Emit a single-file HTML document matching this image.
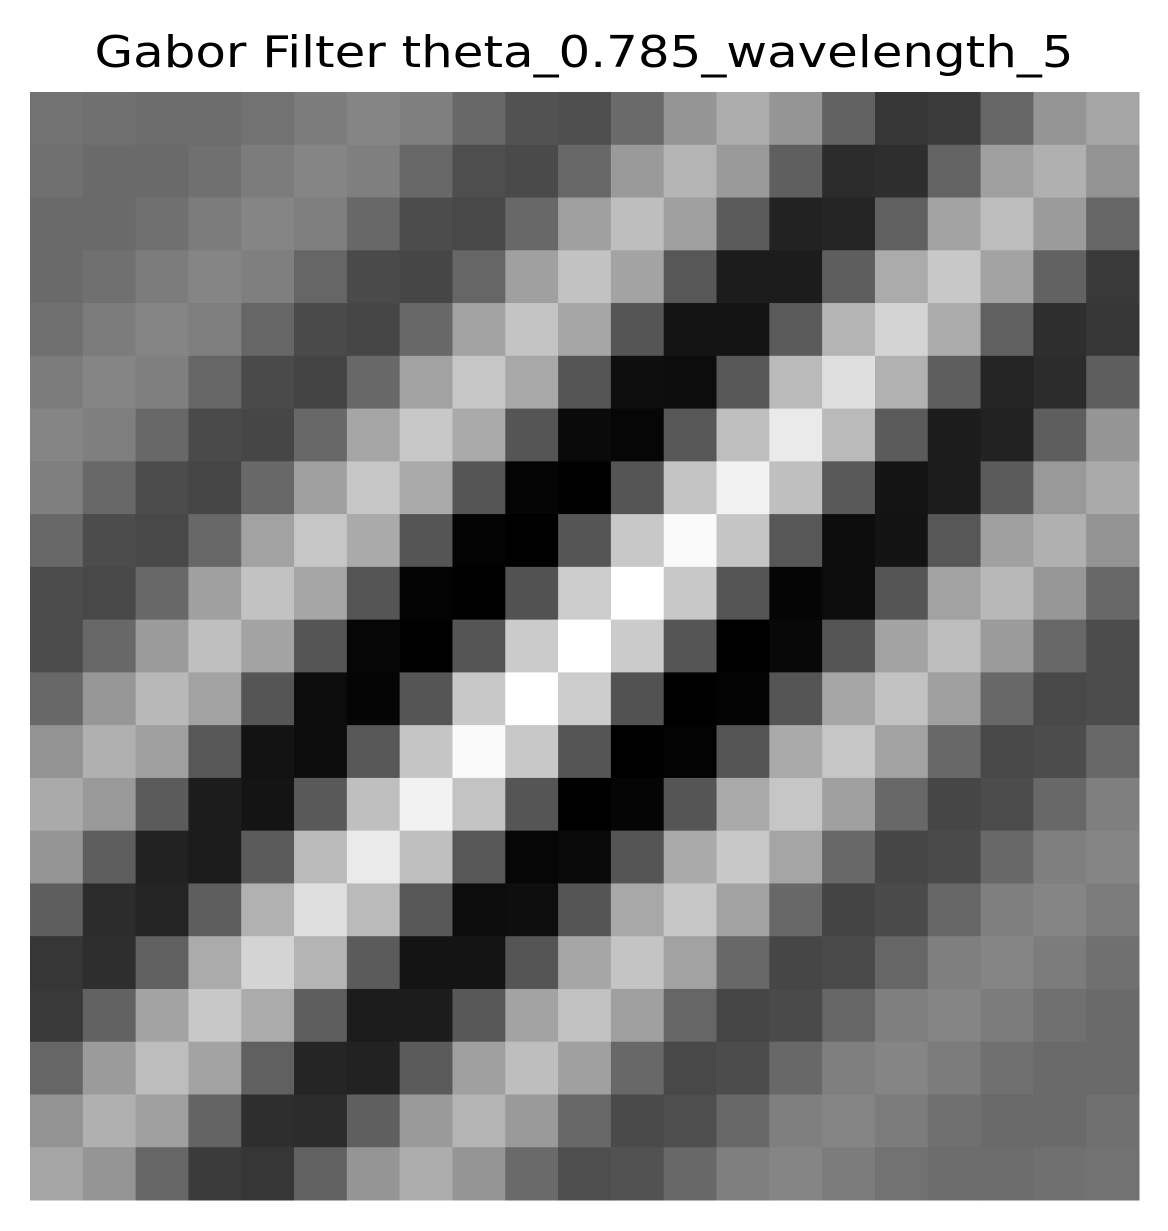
<!DOCTYPE html>
<html><head><meta charset="utf-8"><style>
html,body{margin:0;padding:0;background:#fff;}
svg{display:block;}
</style></head><body>
<svg id="chart" width="1168" height="1231" viewBox="0 0 1168 1231" xmlns="http://www.w3.org/2000/svg">
<rect width="1168" height="1231" fill="#fff"/>
<text x="584" y="67" text-anchor="middle" font-family="DejaVu Sans, Liberation Sans, sans-serif" font-size="44" textLength="979" lengthAdjust="spacingAndGlyphs" fill="#000">Gabor Filter theta_0.785_wavelength_5</text>
<g id="cells"></g>
</svg>
<script>
const rowIndex = [0,1,2,3,4,5,6,7,8,9,10,11,12,13,14,15,16,17,18,19,20];
const row0 = [114,112,108,108,114,124,133,127,104,82,78,106,149,173,149,98,54,59,102,149,165];
const row1 = [112,106,106,112,124,133,127,104,78,74,104,154,180,154,95,44,46,99,159,176,147];
const row2 = [106,106,112,124,133,127,104,76,72,104,160,190,160,91,34,37,96,163,189,155,102];
const row3 = [106,112,124,133,127,102,74,70,102,160,194,163,87,28,28,94,171,200,163,98,57];
const row4 = [112,124,133,127,102,74,70,104,162,196,166,85,20,20,91,180,212,171,96,46,54];
const row5 = [124,133,127,102,74,68,104,162,198,168,85,14,12,87,186,223,177,94,36,44,94];
const row6 = [133,127,104,74,70,104,165,200,170,85,10,6,87,191,234,186,91,28,34,94,149];
const row7 = [127,104,76,70,104,160,198,170,85,5,0,85,195,242,191,89,20,28,91,153,170];
const row8 = [104,76,72,104,162,198,170,85,3,0,85,200,250,197,87,12,19,87,160,176,147];
const row9 = [76,72,104,160,194,166,85,3,0,82,204,255,200,85,5,12,85,162,184,151,104];
const row10 = [76,104,155,191,163,85,6,0,85,203,255,203,85,0,8,85,163,189,155,104,76];
const row11 = [104,151,184,162,85,12,5,85,200,255,204,82,0,3,85,166,194,160,104,72,76];
const row12 = [147,176,160,87,19,12,87,197,250,200,85,0,3,85,170,198,162,104,72,76,104];
const row13 = [170,153,91,28,20,89,191,242,195,85,0,5,85,170,198,160,104,70,76,104,127];
const row14 = [149,94,34,28,91,186,234,191,87,6,10,85,170,200,165,104,70,74,104,127,133];
const row15 = [94,44,36,94,177,223,186,87,12,14,85,168,198,162,104,68,74,102,127,133,124];
const row16 = [54,46,96,171,212,180,91,20,20,85,166,196,162,104,70,74,102,127,133,124,112];
const row17 = [57,98,163,200,171,94,28,28,87,163,194,160,102,70,74,102,127,133,124,112,106];
const row18 = [102,155,189,163,96,37,34,91,160,190,160,104,72,76,104,127,133,124,112,106,106];
const row19 = [147,176,159,99,46,44,95,154,180,154,104,74,78,104,127,133,124,112,106,106,112];
const row20 = [165,149,102,59,54,98,149,173,149,106,78,82,104,127,133,124,114,108,108,112,114];
const rows = [row0,row1,row2,row3,row4,row5,row6,row7,row8,row9,row10,row11,row12,row13,row14,row15,row16,row17,row18,row19,row20];

const X0 = 30, X1 = 1139, Y0 = 92, Y1 = 1200;
const nR = rows.length, nC = rows[0].length;
const cw = (X1 - X0) / nC, ch = (Y1 - Y0) / nR;
const xScale = c => X0 + c * cw;
const yScale = r => Y0 + r * ch;
let vmin = Infinity, vmax = -Infinity;
rows.forEach(r => r.forEach(v => { vmin = Math.min(vmin, v); vmax = Math.max(vmax, v); }));
const gray = v => Math.round((v - vmin) / (vmax - vmin) * 255);
const g = document.getElementById('cells');
const NS = 'http://www.w3.org/2000/svg';
rows.forEach((row, r) => {
  row.forEach((v, c) => {
    const el = document.createElementNS(NS, 'rect');
    
    
    const x = xScale(c), y = yScale(r);
    el.setAttribute('x', x);
    el.setAttribute('y', y);
    el.setAttribute('width', xScale(c + 1) - x + 0.5);
    el.setAttribute('height', yScale(r + 1) - y + 0.5);
    const k = gray(v);
    el.setAttribute('fill', `rgb(${k},${k},${k})`);
    g.appendChild(el);
  });
});
</script>
</body></html>
